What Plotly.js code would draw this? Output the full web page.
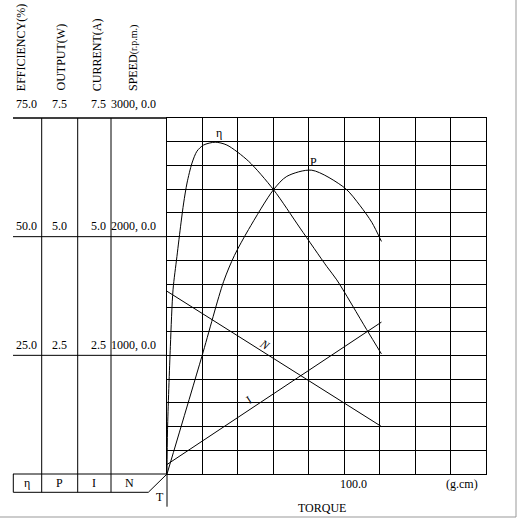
<!DOCTYPE html>
<html>
<head>
<meta charset="utf-8">
<script src="https://cdn.plot.ly/plotly-3.0.1.min.js"></script>
<style>body{margin:0;background:#fff}</style>
</head>
<body>
<div id="chart" style="width:518px;height:519px"></div>
<script>
// data
const torqueEta = [0, 0.3, 1.9, 3.4, 5.6, 7.9, 9.4, 11.3, 14.1, 16.9, 20.6, 27.2, 33.8, 46.0, 60.1, 75.1, 90.2, 95.8, 112.7, 121];
const efficiency = [0, 9.3, 26.9, 38.8, 45.8, 52.9, 57.1, 61.3, 65.5, 68.0, 69.3, 69.9, 69.3, 65.9, 59.9, 51.8, 43.7, 40.9, 30.4, 25.3];

const torqueP = [0, 19.7, 31.9, 38, 46.0, 60.1, 67.6, 81.7, 100.5, 109, 115.6, 121];
const output = [0, 2.48, 4.05, 4.6, 5.15, 5.99, 6.27, 6.40, 6.02, 5.65, 5.30, 4.90];

const torqueLine = [0, 121];
const speed = [1540, 400];
const current = [0.2, 3.2];

const effLevels = [75, 50, 25];
const effLabels = ['75.0', '50.0', '25.0'];
const outLabels = ['7.5', '5.0', '2.5'];
const curLabels = ['7.5', '5.0', '2.5'];
const spdLabels = ['3000, 0.0', '2000, 0.0', '1000, 0.0'];
const colTitles = ['EFFICIENCY(%)', 'OUTPUT(W)', 'CURRENT(A)', 'SPEED<span style="font-size:10px">(r.p.m.)</span>'];
const legendSyms = ['η', 'P', 'I', 'N'];

// page geometry
const W = 518, H = 519, L = 167, R = 32, T = 118, B = 45;
const pw = W - L - R, ph = H - T - B;
function px(x) { return (x - L) / pw; }
function py(y) { return (H - B - y) / ph; }

const font = {family: 'Liberation Serif, DejaVu Serif, serif', size: 12, color: '#000'};
const line = {color: '#000', width: 1};

const traces = [
    {x: torqueEta, y: efficiency, type: 'scatter', mode: 'lines', line: {color: '#000', width: 1, shape: 'spline', smoothing: 0.8}, yaxis: 'y'},
    {x: torqueP, y: output, type: 'scatter', mode: 'lines', line: {color: '#000', width: 1, shape: 'spline', smoothing: 0.8}, yaxis: 'y2'},
    {x: torqueLine, y: current, type: 'scatter', mode: 'lines', line: line, yaxis: 'y3'},
    {x: torqueLine, y: speed, type: 'scatter', mode: 'lines', line: line, yaxis: 'y4'}
];

const colX = [26, 59, 98, 133];
const colLines = [41.7, 77.7, 111];

const shapes = [];
function seg(x0, y0, x1, y1) {
    shapes.push({type: 'line', xref: 'paper', yref: 'paper', x0: px(x0), y0: py(y0), x1: px(x1), y1: py(y1), line: line});
}
// left table
seg(13, T, L, T);
effLevels.forEach(function(v) {
    const yy = H - B - v / 75 * ph;
    seg(13, yy, L, yy);
});
seg(13, H - B, L, H - B);
colLines.forEach(function(x) { seg(x, T, x, 492.3); });
seg(13.3, H - B, 13.3, 492.3);
seg(13.3, 492.3, 148.3, 492.3);
seg(148.3, 492.3, L, H - B);
seg(L, H - B, L, 506.7);
// grey frame of the picture
shapes.push({type: 'line', xref: 'paper', yref: 'paper', x0: px(516), y0: py(0), x1: px(516), y1: py(517), line: {color: '#999', width: 1}});
shapes.push({type: 'line', xref: 'paper', yref: 'paper', x0: px(0), y0: py(517), x1: px(516), y1: py(517), line: {color: '#999', width: 1}});

const ann = [];
function txt(text, x, y, opts) {
    ann.push(Object.assign({text: text, xref: 'paper', yref: 'paper', x: px(x), y: py(y),
        xanchor: 'center', yanchor: 'middle', showarrow: false, font: font}, opts || {}));
}
colTitles.forEach(function(t, i) {
    txt(t, [20.7, 60, 96.7, 133][i], 93, {textangle: -90, yanchor: 'bottom'});
});
effLevels.forEach(function(v, k) {
    const yy = [104, 226, 345][k];
    txt(effLabels[k], colX[0], yy);
    txt(outLabels[k], colX[1], yy);
    txt(curLabels[k], colX[2], yy);
    txt(spdLabels[k], colX[3], yy);
});
legendSyms.forEach(function(s, i) { txt(s, [27, 59.5, 94, 129][i], 483); });
txt('T', 159.5, 497);
txt('100.0', 353.5, 484);
txt('(g.cm)', 461.7, 484);
txt('TORQUE', 321.7, 508);
// curve labels
ann.push({text: 'η', x: 29.6, y: 71.8, xref: 'x', yref: 'y', showarrow: false, font: font});
ann.push({text: 'P', x: 82.7, y: 6.58, xref: 'x', yref: 'y2', showarrow: false, font: font});
ann.push({text: '<i>N</i>', x: 55.4, y: 1090, xref: 'x', yref: 'y4', showarrow: false, font: font, textangle: 32});
ann.push({text: 'I', x: 46, y: 1.56, xref: 'x', yref: 'y3', showarrow: false, font: font, textangle: -33});

const hidden = {range: [0, 75], overlaying: 'y', visible: false, fixedrange: true};
const layout = {
    width: W, height: H,
    margin: {l: L, r: R, t: T, b: B},
    paper_bgcolor: '#fff', plot_bgcolor: '#fff',
    showlegend: false,
    font: font,
    xaxis: {range: [0, 180], dtick: 20, showgrid: true, gridcolor: '#000', gridwidth: 1, zeroline: false,
        showline: true, mirror: true, linecolor: '#000', linewidth: 1, showticklabels: false, ticks: ''},
    yaxis: {range: [0, 75], dtick: 5, showgrid: true, gridcolor: '#000', gridwidth: 1, zeroline: false,
        showline: true, mirror: true, linecolor: '#000', linewidth: 1, showticklabels: false, ticks: ''},
    yaxis2: Object.assign({}, hidden, {range: [0, 7.5]}),
    yaxis3: Object.assign({}, hidden, {range: [0, 7.5]}),
    yaxis4: Object.assign({}, hidden, {range: [0, 3000]}),
    shapes: shapes,
    annotations: ann
};

Plotly.newPlot('chart', traces, layout, {displayModeBar: false, staticPlot: true});
</script>
</body>
</html>
